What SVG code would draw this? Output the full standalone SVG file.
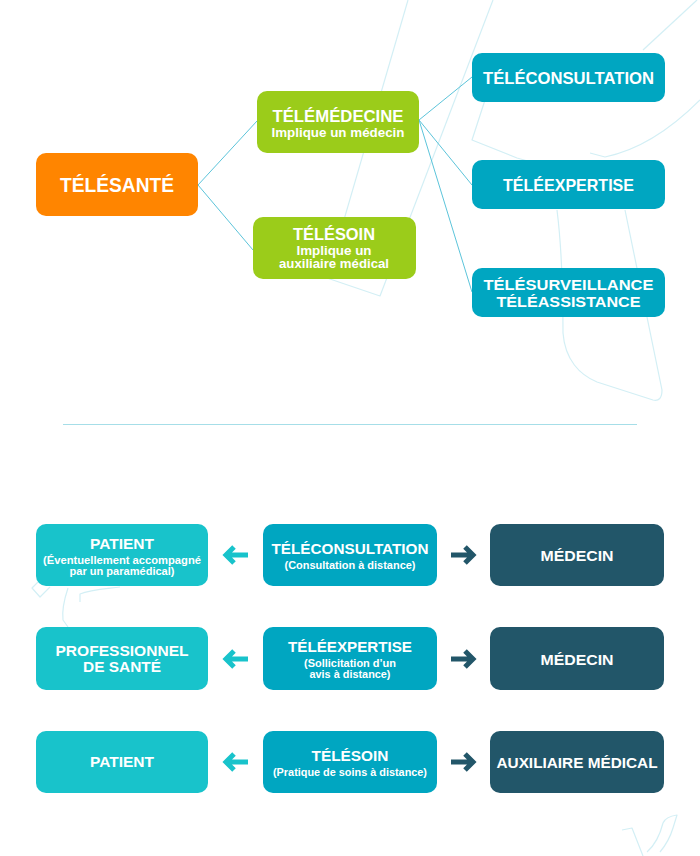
<svg xmlns="http://www.w3.org/2000/svg" width="700" height="856" viewBox="0 0 700 856">
<defs>
<style>
text{font-family:"Liberation Sans",Arial,sans-serif;font-weight:700;fill:#fff;text-anchor:middle}
.bg{fill:none;stroke:#D3EFF5;stroke-width:1.2;stroke-linejoin:round}
.con{fill:none;stroke:#5CC4DA;stroke-width:1}
.orange{fill:#FF8500}
.green{fill:#9BCC1A}
.blue{fill:#00A6C1}
.light{fill:#18C3CB}
.dark{fill:#225669}
.t20{font-size:19.5px}
.t17{font-size:16.5px}
.t16{font-size:15.5px}
.t15{font-size:15px}
.s12{font-size:12.5px}
.s10{font-size:10.5px}
.arrL{fill:none;stroke:#18C3CB;stroke-width:5}
.arrR{fill:none;stroke:#225669;stroke-width:5}
</style>
<path id="arrowL" d="M248,0 H227 M234,-8 L226,0 L234,8"/>
<path id="arrowR" d="M451,0 H472 M465,-8 L473,0 L465,8"/>
</defs>
<rect width="700" height="856" fill="#fff"/>
<g id="background">
<path class="bg" d="M408,0 L327,278 L380,296 L493,0"/>
<path class="bg" d="M485,100 L472,140 L517,158 L560,170"/>
<path class="bg" d="M557,210 C562,250 563,300 563,333 C565,360 580,375 597,382 L653,400 Q662,402 662,390 L625,210"/>
<path class="bg" d="M590,153 L605,157 C640,150 670,130 700,100"/>
<path class="bg" d="M643,50 L697,0"/>
<path class="bg" d="M50,587 L40,597 L32,588 L38,582"/>
<path class="bg" d="M68,588 C64,600 62,612 63,620 L68,627"/>
<path class="bg" d="M80,602 L80,594 C90,590 105,589 120,587"/>
<path class="bg" d="M622,830 L632,828 L643,856"/>
<path class="bg" d="M647,852 C655,845 660,835 663,823 C665,818 670,816 677,815 L673,828 C670,838 665,846 660,852"/>
</g>
<g id="connectors">
<path class="con" d="M198,185 L257,121"/>
<path class="con" d="M198,185 L253,250"/>
<path class="con" d="M419,120 L472,77"/>
<path class="con" d="M419,120 L472,185"/>
<path class="con" d="M419,120 L472,292"/>
<line x1="63" y1="424.5" x2="637" y2="424.5" stroke="#A6DEE8" stroke-width="1.2"/>
<use href="#arrowL" class="arrL" y="555"/>
<use href="#arrowL" class="arrL" y="659"/>
<use href="#arrowL" class="arrL" y="762"/>
<use href="#arrowR" class="arrR" y="555"/>
<use href="#arrowR" class="arrR" y="659"/>
<use href="#arrowR" class="arrR" y="762"/>
</g>
<g id="telesante"><rect class="orange" x="36" y="153" width="162" height="63" rx="10"/><text class="t20" x="117" y="192" textLength="114" lengthAdjust="spacingAndGlyphs">TÉLÉSANTÉ</text></g>
<g id="telemedecine"><rect class="green" x="257" y="91" width="162" height="62" rx="10"/><text class="t17" x="338" y="122" textLength="131" lengthAdjust="spacingAndGlyphs">TÉLÉMÉDECINE</text><text class="s12" x="338" y="137" textLength="133" lengthAdjust="spacingAndGlyphs">Implique un médecin</text></g>
<g id="telesoin"><rect class="green" x="253" y="217" width="163" height="62" rx="10"/><text class="t17" x="334" y="240" textLength="82" lengthAdjust="spacingAndGlyphs">TÉLÉSOIN</text><text class="s12" x="334" y="255" textLength="75" lengthAdjust="spacingAndGlyphs">Implique un</text><text class="s12" x="334" y="268" textLength="110" lengthAdjust="spacingAndGlyphs">auxiliaire médical</text></g>
<g id="teleconsultation-top"><rect class="blue" x="472" y="53" width="193" height="49" rx="10"/><text class="t17" x="568.5" y="84" textLength="171" lengthAdjust="spacingAndGlyphs">TÉLÉCONSULTATION</text></g>
<g id="teleexpertise-top"><rect class="blue" x="472" y="160" width="193" height="49" rx="10"/><text class="t17" x="568.5" y="191" textLength="131" lengthAdjust="spacingAndGlyphs">TÉLÉEXPERTISE</text></g>
<g id="telesurveillance-top"><rect class="blue" x="472" y="268" width="193" height="49" rx="10"/><text class="t16" x="568.5" y="290" textLength="170" lengthAdjust="spacingAndGlyphs">TÉLÉSURVEILLANCE</text><text class="t16" x="568.5" y="306.5" textLength="144" lengthAdjust="spacingAndGlyphs">TÉLÉASSISTANCE</text></g>
<g id="patient-1"><rect class="light" x="36" y="524" width="172" height="62" rx="10"/><text class="t15" x="122" y="549" textLength="64" lengthAdjust="spacingAndGlyphs">PATIENT</text><text class="s10" x="122" y="564" textLength="158" lengthAdjust="spacingAndGlyphs">(Éventuellement accompagné</text><text class="s10" x="122" y="575" textLength="105" lengthAdjust="spacingAndGlyphs">par un paramédical)</text></g>
<g id="teleconsultation"><rect class="blue" x="263" y="524" width="174" height="62" rx="10"/><text class="t15" x="350" y="554" textLength="157" lengthAdjust="spacingAndGlyphs">TÉLÉCONSULTATION</text><text class="s10" x="350" y="569" textLength="131" lengthAdjust="spacingAndGlyphs">(Consultation à distance)</text></g>
<g id="medecin-1"><rect class="dark" x="490" y="524" width="174" height="62" rx="10"/><text class="t15" x="577" y="561" textLength="73" lengthAdjust="spacingAndGlyphs">MÉDECIN</text></g>
<g id="professionnel"><rect class="light" x="36" y="627" width="172" height="63" rx="10"/><text class="t15" x="122" y="656" textLength="133" lengthAdjust="spacingAndGlyphs">PROFESSIONNEL</text><text class="t15" x="122" y="672" textLength="78" lengthAdjust="spacingAndGlyphs">DE SANTÉ</text></g>
<g id="teleexpertise"><rect class="blue" x="263" y="627" width="174" height="63" rx="10"/><text class="t15" x="350" y="652" textLength="124" lengthAdjust="spacingAndGlyphs">TÉLÉEXPERTISE</text><text class="s10" x="350" y="667" textLength="92" lengthAdjust="spacingAndGlyphs">(Sollicitation d’un</text><text class="s10" x="350" y="678" textLength="81" lengthAdjust="spacingAndGlyphs">avis à distance)</text></g>
<g id="medecin-2"><rect class="dark" x="490" y="627" width="174" height="63" rx="10"/><text class="t15" x="577" y="665" textLength="73" lengthAdjust="spacingAndGlyphs">MÉDECIN</text></g>
<g id="patient-2"><rect class="light" x="36" y="731" width="172" height="62" rx="10"/><text class="t15" x="122" y="767" textLength="64" lengthAdjust="spacingAndGlyphs">PATIENT</text></g>
<g id="telesoin-2"><rect class="blue" x="263" y="731" width="174" height="62" rx="10"/><text class="t15" x="350" y="761" textLength="77" lengthAdjust="spacingAndGlyphs">TÉLÉSOIN</text><text class="s10" x="350" y="776" textLength="154" lengthAdjust="spacingAndGlyphs">(Pratique de soins à distance)</text></g>
<g id="auxiliaire"><rect class="dark" x="490" y="731" width="174" height="62" rx="10"/><text class="t15" x="577" y="768" textLength="161" lengthAdjust="spacingAndGlyphs">AUXILIAIRE MÉDICAL</text></g>
</svg>
